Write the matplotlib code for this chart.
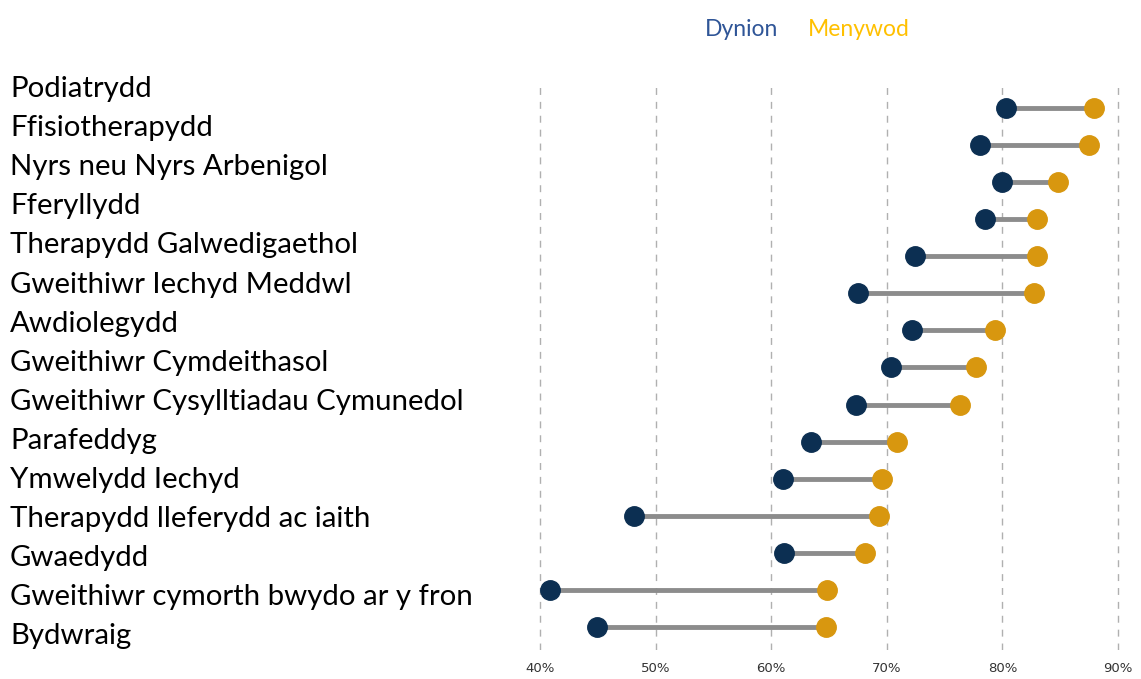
import numpy as np
import matplotlib.pyplot as plt

# data (percent)
roles = ['Podiatrydd', 'Ffisiotherapydd', 'Nyrs neu Nyrs Arbenigol', 'Fferyllydd',
         'Therapydd Galwedigaethol', 'Gweithiwr Iechyd Meddwl', 'Awdiolegydd',
         'Gweithiwr Cymdeithasol', 'Gweithiwr Cysylltiadau Cymunedol', 'Parafeddyg',
         'Ymwelydd Iechyd', 'Therapydd lleferydd ac iaith', 'Gwaedydd',
         'Gweithiwr cymorth bwydo ar y fron', 'Bydwraig']
dynion = [80.3, 78.1, 80.0, 78.5, 72.4, 67.5, 72.2, 70.4, 67.3, 63.4, 61.0, 48.1, 61.1, 40.9, 44.9]
menywod = [87.9, 87.5, 84.8, 83.0, 83.0, 82.7, 79.4, 77.7, 76.3, 70.9, 69.6, 69.3, 68.1, 64.8, 64.7]
ticks = [40, 50, 60, 70, 80, 90]

navy = '#0c2f52'
gold = '#d8970f'

fig = plt.figure(figsize=(11.41, 6.79), dpi=100)
ax = fig.add_axes([500/1141, 29/679, 641/1141, 565/679])

y = np.arange(len(roles))
ax.hlines(y, dynion, menywod, color='#8c8c8c', lw=3.5, zorder=2)
ax.plot(dynion, y, 'o', color=navy, ms=14, zorder=3)
ax.plot(menywod, y, 'o', color=gold, ms=14, zorder=3)

for t in ticks:
    ax.axvline(t, color='#b0b0b0', lw=1, ls=(0, (5, 5)), zorder=1)

ax.set_xlim(36.54, 91.99)
ax.set_ylim(len(roles) - 1 + 0.62, -0.62)
ax.set_yticks([])
ax.set_xticks(ticks)
ax.set_xticklabels([f'{t}%' for t in ticks], fontsize=9.5, color='#333333')
ax.tick_params(axis='x', length=0, pad=9)
for s in ax.spines.values():
    s.set_visible(False)

# category labels are spaced differently from the rows
for i, r in enumerate(roles):
    fig.text(10/1141, 1 - (89 + 39.1*i)/679, r, fontsize=21.2, family='Lato',
             ha='left', va='center', color='black')

fig.text(742/1141, 1 - 29/679, 'Dynion', fontsize=16.5, family='Lato', color='#2f5597',
         ha='center', va='center')
fig.text(859/1141, 1 - 29/679, 'Menywod', fontsize=16.5, family='Lato', color='#ffc000',
         ha='center', va='center')

fig.savefig('out.png', dpi=100)
